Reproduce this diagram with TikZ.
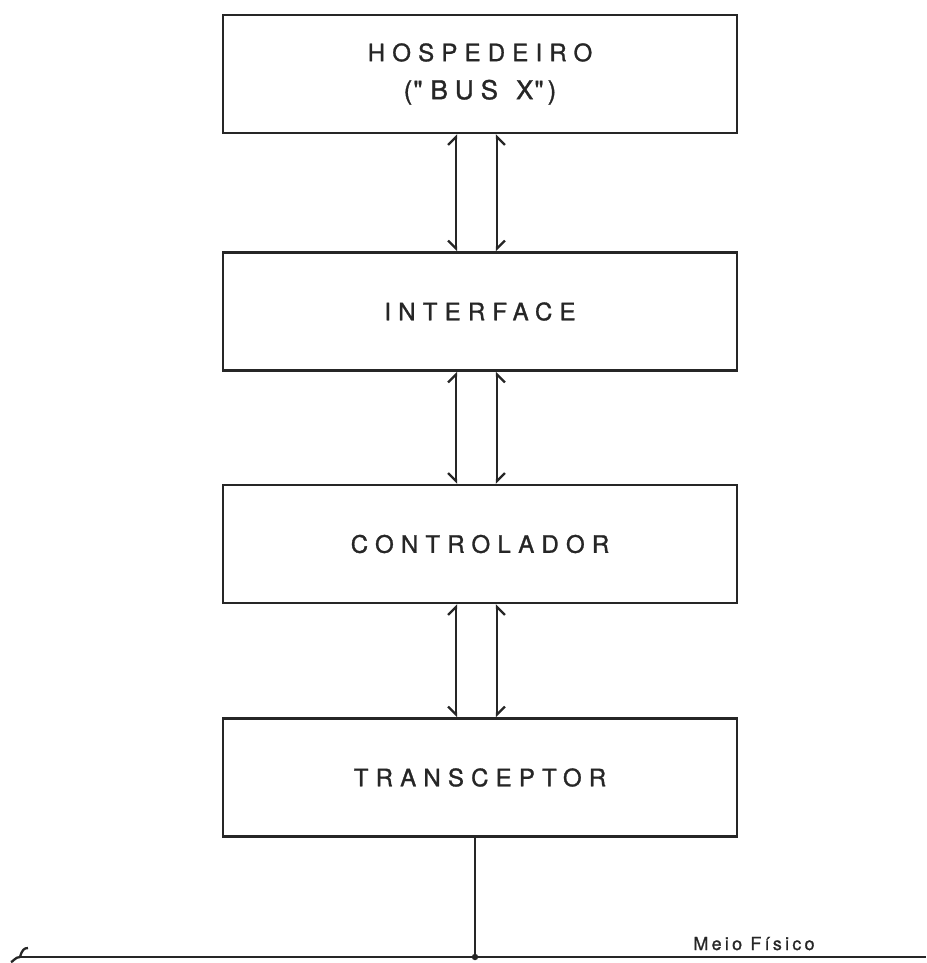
\documentclass[tikz,border=0pt]{standalone}
\usepackage{fontspec}
\usetikzlibrary{arrows.meta}
\newfontfamily\boxfont[LetterSpace=30,FakeBold=1.2]{TeX Gyre Heros}
\newfontfamily\plainfont[FakeBold=1.2]{TeX Gyre Heros}
\newfontfamily\smallfont[LetterSpace=18,FakeBold=1]{TeX Gyre Heros}
% second line of the host block, spaced by hand
\newcommand\busline{{\plainfont\fontsize{13}{19}\selectfont
  (\kern0.5pt"\kern4pt B\kern3.5pt U\kern3.5pt S\kern9pt X\kern0.5pt"\kern2pt)}}

\begin{document}
\begin{tikzpicture}[x=0.5pt, y=-0.5pt,
  ink/.style={draw=black!85, line width=1.15pt},
  block/.style={ink, rectangle, minimum width=257pt, minimum height=59pt,
    inner sep=0pt, font=\boxfont\fontsize{12}{19}\selectfont, text=black!85, align=center},
  barbL/.style={ink, {Straight Barb[left, length=4pt, width=8pt]}-{Straight Barb[right, length=4pt, width=8pt]}},
  barbR/.style={ink, {Straight Barb[right, length=4pt, width=8pt]}-{Straight Barb[left, length=4pt, width=8pt]}},
  wire/.style={ink},
  medium/.style={font=\smallfont\fontsize{9}{11}\selectfont, text=black!85, inner sep=0pt}]

  % page frame
  \useasboundingbox (0,0) rectangle (926,963);

  % protocol stack
  \node[block] (host) at (480,74) {HOSPEDEIRO\\\busline};
  \node[block] (intf) at (480,311.5) {INTERFACE};
  \node[block] (ctrl) at (480,544)   {CONTROLADOR};
  \node[block] (xcvr) at (480,777.5) {TRANSCEPTOR};

  % two-way paths between adjacent blocks
  \foreach \a/\b in {host/intf, intf/ctrl, ctrl/xcvr}{
    \draw[barbL] ([xshift=-12pt]\a.south) -- ([xshift=-12pt]\b.north);
    \draw[barbR] ([xshift=8.5pt]\a.south) -- ([xshift=8.5pt]\b.north);
  }

  % physical medium
  \coordinate (busL) at (20,957);
  \coordinate (busR) at (926,957);
  \coordinate (tap)  at (475,957);
  \draw[wire] (busL) -- (busR);
  \draw[wire] (busL) .. controls (15,957) and (13,962) .. (11,962);
  \draw[wire] (busL) .. controls (22,950) and (24,948) .. (28,948);
  \draw[wire] ([xshift=-2.5pt]xcvr.south) -- (tap);
  \fill[black!85] (tap) circle (1.6pt);
  \node[medium, anchor=base] (meio) at (754,950) {Meio Físico};
\end{tikzpicture}
\end{document}
